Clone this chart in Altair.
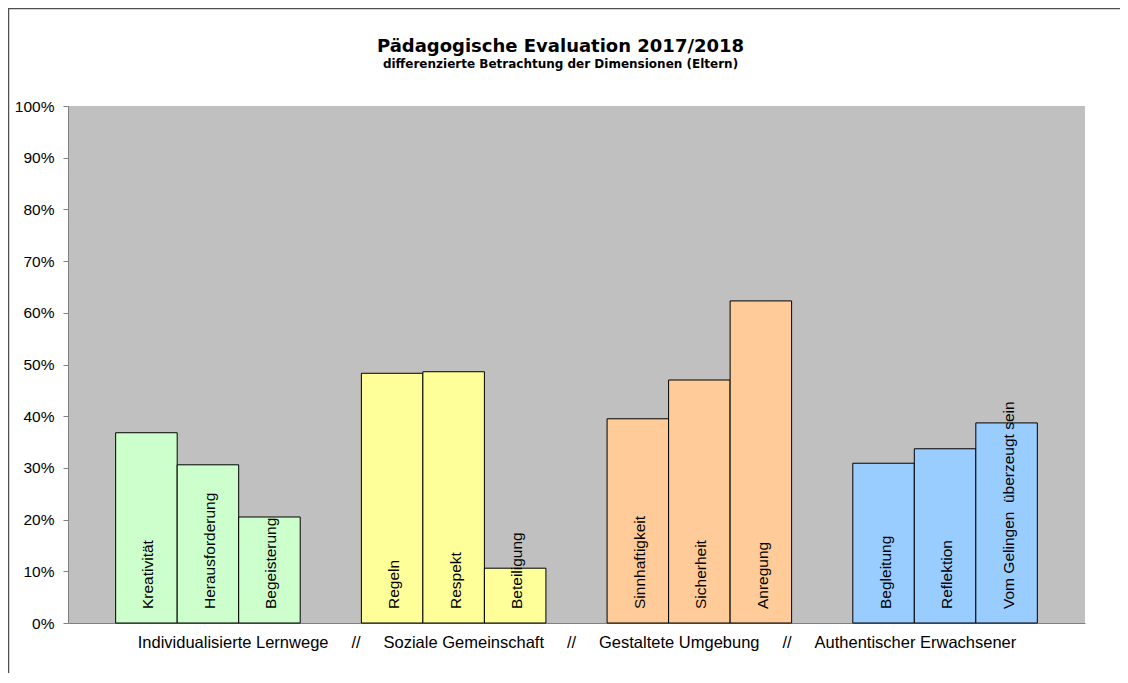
import altair as alt
import pandas as pd

groups = ["Individualisierte Lernwege", "Soziale Gemeinschaft",
          "Gestaltete Umgebung", "Authentischer Erwachsener"]
items = ["Kreativität", "Herausforderung", "Begeisterung",
         "Regeln", "Respekt", "Beteiligung",
         "Sinnhaftigkeit", "Sicherheit", "Anregung",
         "Begleitung", "Reflektion", "Vom Gelingen \u00a0überzeugt sein"]
item_group = [0, 0, 0, 1, 1, 1, 2, 2, 2, 3, 3, 3]
item_slot = [0, 1, 2, 0, 1, 2, 0, 1, 2, 0, 1, 2]
values = [36.8, 30.6, 20.5, 48.3, 48.6, 10.6, 39.5, 47.0, 62.3, 30.9, 33.7, 38.7]
group_colors = ["#CCFFCC", "#FFFF99", "#FFCC99", "#99CCFF"]
y_ticks = [0, 10, 20, 30, 40, 50, 60, 70, 80, 90, 100]

df = pd.DataFrame({
    "item": items,
    "group": [groups[g] for g in item_group],
    "slot": item_slot,
    "value": [v / 100 for v in values],
})

sp = "\u00a0" * 5
x_title = (groups[0] + sp + "//" + sp + groups[1] + sp + "//" + sp +
           groups[2] + sp + "//" + sp + groups[3])

FONT = "Liberation Sans"

x_enc = alt.X("group:N", sort=groups,
              scale=alt.Scale(paddingInner=0.249, paddingOuter=0.194),
              axis=alt.Axis(labels=False, ticks=False, domainColor="#808080",
                            title=x_title, titleFont=FONT, titleFontSize=16.5,
                            titleFontWeight="normal", titleColor="black",
                            titlePadding=11))
xo_enc = alt.XOffset("slot:O", scale=alt.Scale(paddingInner=0, paddingOuter=0))

bars = alt.Chart(df).mark_bar(stroke="black", strokeWidth=1, opacity=1).encode(
    x=x_enc,
    xOffset=xo_enc,
    y=alt.Y("value:Q", scale=alt.Scale(domain=[0, 1], nice=False),
            axis=alt.Axis(values=[t / 100 for t in y_ticks], format=".0%",
                          grid=False, title=None, domainColor="#808080",
                          tickColor="#808080", tickSize=5, labelPadding=9,
                          labelFont=FONT, labelFontSize=15.5, labelColor="black")),
    color=alt.Color("group:N", scale=alt.Scale(domain=groups, range=group_colors),
                    legend=None),
)

labels = alt.Chart(df).mark_text(angle=270, align="left", baseline="middle",
                                 dx=14, dy=2, font=FONT, fontSize=15.5,
                                 color="black").encode(
    x=alt.X("group:N", sort=groups),
    xOffset=alt.XOffset("slot:O"),
    y=alt.datum(0),
    text="item:N",
)

frame_df = pd.DataFrame({"k": [0]})
left_line = alt.Chart(frame_df).mark_rule(color="#505050", strokeWidth=1.5).encode(
    x=alt.value(-59.5), y=alt.value(-98), y2=alt.value(567))
top_line = alt.Chart(frame_df).mark_rule(color="#505050", strokeWidth=1.5).encode(
    x=alt.value(-60), x2=alt.value(1052), y=alt.value(-97.5))

chart = alt.layer(bars, labels, left_line, top_line).properties(
    width=1017, height=517,
    autosize=alt.AutoSizeParams(type="none"),
    padding={"left": 60, "top": 98, "right": 35, "bottom": 50},
    background="white",
    title=alt.TitleParams(
        text="Pädagogische Evaluation 2017/2018",
        subtitle="differenzierte Betrachtung der Dimensionen (Eltern)",
        font="DejaVu Sans", fontSize=18, fontWeight="bold", color="black",
        subtitleFont="DejaVu Sans", subtitleFontSize=12,
        subtitleFontWeight="bold", subtitleColor="black", subtitlePadding=3,
        anchor="middle", dx=-16, offset=-63),
).configure_view(fill="#C0C0C0", stroke=None)

chart.save("out.html", embed_options={"renderer": "svg", "actions": False})
